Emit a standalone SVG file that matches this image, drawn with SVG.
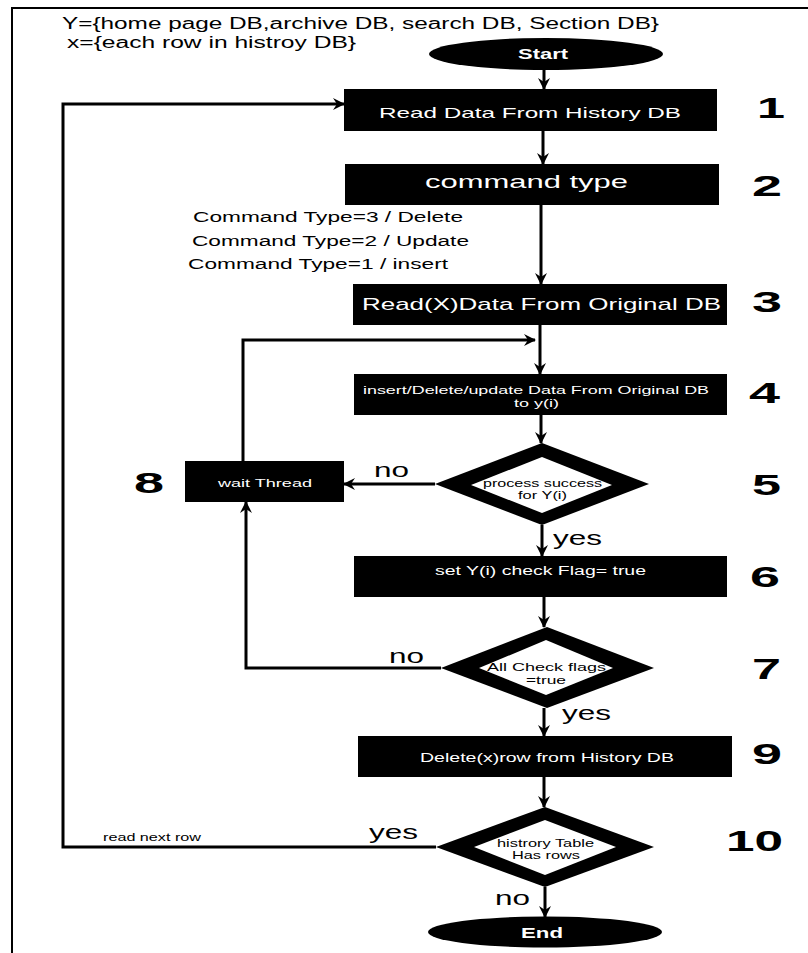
<svg xmlns="http://www.w3.org/2000/svg" width="808" height="953" viewBox="0 0 808 953">
<defs>
<marker id="ah" viewBox="0 0 12 12" markerWidth="12" markerHeight="12" refX="11" refY="6" orient="auto" markerUnits="userSpaceOnUse">
<path d="M0,0 L12,6 L0,12 L4,6 z" fill="#000"/>
</marker>
<style>
text{font-family:"Liberation Sans",Arial,sans-serif;}
.box{fill:#000;}
.wt{fill:#fff;}
.bt{fill:#000;}
.num{fill:#000;font-weight:bold;font-size:30px;}
.lbl{fill:#000;font-size:21px;}
.conn{fill:none;stroke:#000;stroke-width:3;}
.arr{marker-end:url(#ah);}
</style>
</defs>
<rect width="808" height="953" fill="#fff"/>
<path d="M12,953 V8 H808" fill="none" stroke="#000" stroke-width="2"/>

<g id="header">
<text class="bt" x="62" y="29" font-size="16" textLength="597" lengthAdjust="spacingAndGlyphs">Y={home page DB,archive DB, search DB, Section DB}</text>
<text class="bt" x="67" y="48" font-size="16" textLength="289" lengthAdjust="spacingAndGlyphs">x={each row in histroy DB}</text>
</g>

<g id="connectors">
<path class="conn arr" d="M544,70 V89"/>
<path class="conn arr" d="M543,131 V164"/>
<path class="conn arr" d="M541,205 V284"/>
<path class="conn arr" d="M540,325 V374"/>
<path class="conn arr" d="M243,461 V340 H535"/>
<path class="conn arr" d="M541,415 V443"/>
<path class="conn arr" d="M435,484 H344"/>
<path class="conn arr" d="M542,525 V556"/>
<path class="conn arr" d="M544,597 V627"/>
<path class="conn arr" d="M441,668 H246 V502"/>
<path class="conn arr" d="M544,708 V736"/>
<path class="conn arr" d="M544,777 V807"/>
<path class="conn arr" d="M436,847 H63 V104 H344"/>
<path class="conn arr" d="M545,887 V917"/>
</g>

<g id="start">
<ellipse class="box" cx="546" cy="54" rx="117" ry="16"/>
<text class="wt" x="518" y="59" font-size="15" font-weight="bold" textLength="50" lengthAdjust="spacingAndGlyphs">Start</text>
</g>

<g id="n1">
<rect class="box" x="344" y="89" width="373" height="42"/>
<text class="wt" x="379" y="118" font-size="15" textLength="302" lengthAdjust="spacingAndGlyphs">Read Data From History DB</text>
<text class="num" x="757" y="118" textLength="28" lengthAdjust="spacingAndGlyphs">1</text>
</g>

<g id="n2">
<rect class="box" x="345" y="164" width="374" height="41"/>
<text class="wt" x="425" y="188" font-size="19" textLength="203" lengthAdjust="spacingAndGlyphs">command type</text>
<text class="num" x="752" y="196" textLength="30" lengthAdjust="spacingAndGlyphs">2</text>
</g>

<g id="cmd-labels">
<text class="bt" x="193" y="222" font-size="14" textLength="270" lengthAdjust="spacingAndGlyphs">Command Type=3 / Delete</text>
<text class="bt" x="192" y="246" font-size="14" textLength="277" lengthAdjust="spacingAndGlyphs">Command Type=2 / Update</text>
<text class="bt" x="188" y="269" font-size="14" textLength="260" lengthAdjust="spacingAndGlyphs">Command Type=1 / insert</text>
</g>

<g id="n3">
<rect class="box" x="353" y="284" width="374" height="41"/>
<text class="wt" x="362" y="310" font-size="17" textLength="359" lengthAdjust="spacingAndGlyphs">Read(X)Data From Original DB</text>
<text class="num" x="752" y="312" textLength="30" lengthAdjust="spacingAndGlyphs">3</text>
</g>

<g id="n4">
<rect class="box" x="354" y="374" width="373" height="41"/>
<text class="wt" x="363" y="394" font-size="11" textLength="346" lengthAdjust="spacingAndGlyphs">insert/Delete/update Data From Original DB</text>
<text class="wt" x="514" y="407" font-size="11" textLength="45" lengthAdjust="spacingAndGlyphs">to y(i)</text>
<text class="num" x="749" y="403" textLength="31" lengthAdjust="spacingAndGlyphs">4</text>
</g>

<g id="n5">
<polygon class="box" points="542,443 649,484 542,525 435,484"/>
<polygon fill="#fff" points="542,457 612,485 542,513 471,485"/>
<text class="bt" x="483" y="487" font-size="11" textLength="119" lengthAdjust="spacingAndGlyphs">process success</text>
<text class="bt" x="518" y="499" font-size="11" textLength="49" lengthAdjust="spacingAndGlyphs">for Y(i)</text>
<text class="num" x="752" y="495" textLength="29" lengthAdjust="spacingAndGlyphs">5</text>
<text class="lbl" x="374" y="477" textLength="35" lengthAdjust="spacingAndGlyphs">no</text>
<text class="lbl" x="553" y="545" textLength="49" lengthAdjust="spacingAndGlyphs">yes</text>
</g>

<g id="n8">
<rect class="box" x="185" y="461" width="159" height="41"/>
<text class="wt" x="218" y="487" font-size="11.5" textLength="94" lengthAdjust="spacingAndGlyphs">wait Thread</text>
<text class="num" x="134" y="493" textLength="30" lengthAdjust="spacingAndGlyphs">8</text>
</g>

<g id="n6">
<rect class="box" x="354" y="556" width="373" height="41"/>
<text class="wt" x="435" y="575" font-size="12" textLength="211" lengthAdjust="spacingAndGlyphs">set Y(i) check Flag= true</text>
<text class="num" x="750" y="587" textLength="30" lengthAdjust="spacingAndGlyphs">6</text>
</g>

<g id="n7">
<polygon class="box" points="547,627 654,668 547,708 441,668"/>
<polygon fill="#fff" points="546,640 613,668 546,695 479,668"/>
<text class="bt" x="487" y="671" font-size="11" textLength="119" lengthAdjust="spacingAndGlyphs">All Check flags</text>
<text class="bt" x="526" y="684" font-size="11" textLength="40" lengthAdjust="spacingAndGlyphs">=true</text>
<text class="num" x="752" y="679" textLength="29" lengthAdjust="spacingAndGlyphs">7</text>
<text class="lbl" x="389" y="663" textLength="35" lengthAdjust="spacingAndGlyphs">no</text>
<text class="lbl" x="562" y="720" textLength="49" lengthAdjust="spacingAndGlyphs">yes</text>
</g>

<g id="n9">
<rect class="box" x="358" y="736" width="374" height="41"/>
<text class="wt" x="420" y="762" font-size="12.5" textLength="254" lengthAdjust="spacingAndGlyphs">Delete(x)row from History DB</text>
<text class="num" x="752" y="764" textLength="30" lengthAdjust="spacingAndGlyphs">9</text>
</g>

<g id="n10">
<polygon class="box" points="545,807 654,847 545,887 436,847"/>
<polygon fill="#fff" points="545,820 616,847 545,875 474,847"/>
<text class="bt" x="497" y="847" font-size="11" textLength="97" lengthAdjust="spacingAndGlyphs">histrory Table</text>
<text class="bt" x="512" y="859" font-size="11" textLength="68" lengthAdjust="spacingAndGlyphs">Has rows</text>
<text class="num" x="726" y="851" textLength="57" lengthAdjust="spacingAndGlyphs">10</text>
<text class="lbl" x="369" y="839" textLength="49" lengthAdjust="spacingAndGlyphs">yes</text>
<text class="bt" x="103" y="841" font-size="10" textLength="98" lengthAdjust="spacingAndGlyphs">read next row</text>
<text class="lbl" x="495" y="905" textLength="35" lengthAdjust="spacingAndGlyphs">no</text>
</g>

<g id="end">
<ellipse class="box" cx="545" cy="932" rx="117" ry="15.5"/>
<text class="wt" x="521" y="938" font-size="15" font-weight="bold" textLength="42" lengthAdjust="spacingAndGlyphs">End</text>
</g>
</svg>
